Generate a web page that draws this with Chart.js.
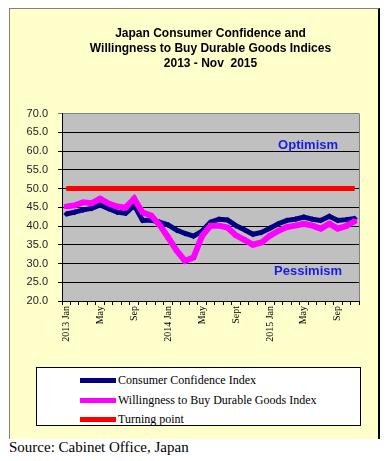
<!DOCTYPE html>
<html>
<head>
<meta charset="utf-8">
<script src="https://cdn.jsdelivr.net/npm/chart.js@4.4.0/dist/chart.umd.min.js"></script>
<style>
    body { margin: 0; background: #fff; width: 389px; height: 461px; position: relative; overflow: hidden; }
    #frame {
        position: absolute; left: 9px; top: 8px; width: 368px; height: 430px;
        background: #ffffcc;
        border-top: 1px solid #808080; border-left: 1px solid #808080; border-right: 2px solid #000;
    }
    #chart { position: absolute; left: 0; top: 0; }
    #legend {
        position: absolute; left: 36px; top: 367px; width: 323px; height: 57px;
        background: #fff; border: 1px solid #000;
        font-family: "Liberation Serif", "Times New Roman", serif; font-size: 12px; color: #000;
    }
    .legend-row { position: absolute; left: 43px; height: 14px; line-height: 14px; }
    .legend-line { position: absolute; left: 0; top: 5px; width: 36px; height: 5px; }
    .legend-text { position: absolute; left: 38px; top: 0; white-space: nowrap; }
    #source {
        position: absolute; left: 9px; top: 439px;
        font-family: "Liberation Serif", "Times New Roman", serif; font-size: 15px; line-height: 17px; color: #000;
    }
</style>
</head>
<body>
<div id="frame"></div>
<canvas id="chart" width="389" height="362"></canvas>
<div id="legend"></div>
<div id="source">Source: Cabinet Office, Japan</div>
<script>
// Months Jan 2013 - Nov 2015, labelled every four months
const monthLabels = [
    '2013 Jan', '', '', '', 'May', '', '', '', 'Sep', '', '', '',
    '2014 Jan', '', '', '', 'May', '', '', '', 'Sept', '', '', '',
    '2015 Jan', '', '', '', 'May', '', '', '', 'Sep', '', ''
];

const confidenceIndex = [
    43.2, 43.7, 44.3, 44.7, 45.6, 44.6, 43.7, 43.4, 45.5, 41.5, 41.6, 41.0,
    40.3, 38.9, 38.0, 37.3, 38.6, 41.0, 41.8, 41.6, 40.1, 39.0, 37.8, 38.3,
    39.4, 40.6, 41.5, 41.8, 42.4, 41.8, 41.5, 42.6, 41.5, 41.7, 42.0
];

const durableGoodsIndex = [
    45.2, 45.5, 46.3, 46.1, 47.3, 46.0, 45.2, 44.9, 47.3, 43.6, 42.8, 40.3,
    37.0, 33.5, 30.7, 31.6, 37.3, 40.1, 40.1, 39.6, 37.5, 36.3, 35.0, 35.6,
    37.4, 38.7, 39.7, 40.1, 40.6, 40.1, 39.3, 40.6, 39.3, 40.0, 41.3
];

const turningPoint = monthLabels.map(() => 50);

const titleLines = [
    'Japan Consumer Confidence and',
    'Willingness to Buy Durable Goods Indices',
    '2013 - Nov  2015'
];

const colors = {
    confidence: '#000080',
    durable: '#ff00ff',
    turning: '#ff0000',
    plot: '#c0c0c0',
    zoneText: '#1a1ae6'
};

// Grey plot background
const plotBackground = {
    id: 'plotBackground',
    beforeDraw(chart) {
        const { ctx, chartArea: a } = chart;
        ctx.save();
        ctx.fillStyle = colors.plot;
        ctx.fillRect(a.left, a.top, a.right - a.left, a.bottom - a.top);
        ctx.strokeStyle = '#808080';
        ctx.lineWidth = 1;
        ctx.beginPath();
        ctx.moveTo(a.right + 0.5, a.top);
        ctx.lineTo(a.right + 0.5, a.bottom);
        ctx.stroke();
        ctx.restore();
    }
};

// "Optimism" / "Pessimism" labels inside the plot
const zoneLabels = {
    id: 'zoneLabels',
    afterDatasetsDraw(chart) {
        const { ctx, scales: { x, y } } = chart;
        ctx.save();
        ctx.font = 'bold 13px "Liberation Sans", Arial, sans-serif';
        ctx.fillStyle = colors.zoneText;
        ctx.textAlign = 'center';
        ctx.textBaseline = 'middle';
        const cx = (x.getPixelForValue(28) + x.getPixelForValue(29)) / 2;
        ctx.fillText('Optimism', cx, y.getPixelForValue(61.6));
        ctx.fillText('Pessimism', cx, y.getPixelForValue(28.0));
        ctx.restore();
    }
};

// HTML legend built from the datasets
const htmlLegend = {
    id: 'htmlLegend',
    afterUpdate(chart) {
        const box = document.getElementById('legend');
        box.innerHTML = chart.data.datasets.map((ds, i) => `
            <div class="legend-row" style="top:${5 + i * 19.5}px">
                <div class="legend-line" style="background:${ds.borderColor}"></div>
                <div class="legend-text">${ds.label}</div>
            </div>`).join('');
    }
};

const ctx = document.getElementById('chart').getContext('2d');
const chart = new Chart(ctx, {
    type: 'line',
    data: {
        labels: monthLabels,
        datasets: [
            {
                label: 'Consumer Confidence Index',
                data: confidenceIndex,
                borderColor: colors.confidence,
                backgroundColor: colors.confidence,
                borderWidth: 5,
                pointStyle: 'rectRot',
                pointRadius: 3,
                pointBorderWidth: 0,
                tension: 0,
                order: 3
            },
            {
                label: 'Willingness to Buy Durable Goods Index',
                data: durableGoodsIndex,
                borderColor: colors.durable,
                backgroundColor: colors.durable,
                borderWidth: 6,
                pointStyle: 'rect',
                pointRadius: 3.5,
                pointBorderWidth: 0,
                tension: 0,
                order: 2
            },
            {
                label: 'Turning point',
                data: turningPoint,
                borderColor: colors.turning,
                backgroundColor: colors.turning,
                borderWidth: 5,
                pointRadius: 0,
                tension: 0,
                order: 1
            }
        ]
    },
    options: {
        responsive: false,
        animation: false,
        layout: { padding: { left: 0, right: 30, top: 0, bottom: 19 } },
        plugins: {
            legend: { display: false },
            tooltip: { enabled: false },
            title: {
                display: true,
                fullSize: false,
                text: titleLines,
                color: '#000',
                font: { family: '"Liberation Sans", Arial, sans-serif', size: 12, weight: 'bold', lineHeight: 1.25 },
                padding: { top: 26, bottom: 42.5 }
            }
        },
        scales: {
            x: {
                offset: true,
                border: { display: true, color: '#000', width: 1 },
                grid: { offset: true, drawOnChartArea: false, drawTicks: true, tickLength: 4, color: '#000' },
                ticks: {
                    autoSkip: false,
                    maxRotation: 90,
                    minRotation: 90,
                    padding: 1,
                    color: '#000',
                    font: { family: '"Liberation Serif", "Times New Roman", serif', size: 10 }
                },
                afterFit(scale) { scale.height = 42; }
            },
            y: {
                min: 20,
                max: 70,
                border: { display: true, color: '#000', width: 1 },
                grid: {
                    color: (c) => c.tick && c.tick.value === 70 ? '#808080' : '#000',
                    lineWidth: 1,
                    tickLength: 4
                },
                ticks: {
                    stepSize: 5,
                    padding: 10,
                    color: '#222',
                    font: { family: '"Liberation Sans", Arial, sans-serif', size: 11 },
                    callback: (v) => v.toFixed(1)
                },
                afterFit(scale) { scale.width = 62; }
            }
        }
    },
    plugins: [plotBackground, zoneLabels, htmlLegend]
});
</script>
</body>
</html>
